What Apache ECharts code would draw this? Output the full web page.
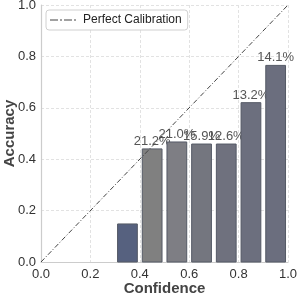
<!DOCTYPE html>
<html><head><meta charset="utf-8">
<script src="https://cdn.jsdelivr.net/npm/echarts@6/dist/echarts.min.js"></script>
<style>html,body{margin:0;padding:0;background:#fff}#c{width:297px;height:297px}</style>
</head><body><div id="c"></div>
<script>
const binLow = [0.3, 0.4, 0.5, 0.6, 0.7, 0.8, 0.9];
const binHigh = [0.4, 0.5, 0.6, 0.7, 0.8, 0.9, 1.0];
const accuracy = [0.148, 0.44, 0.467, 0.459, 0.459, 0.62, 0.765];
const labels = ['', '21.2%', '21.0%', '15.9%', '12.6%', '13.2%', '14.1%'];
const barColors = ['#56617f', '#808080', '#7e7e84', '#74767f', '#6f717e', '#6c6f7e', '#6b6e7e'];
const ticks = [0, 0.2, 0.4, 0.6, 0.8, 1.0];
const diagX = [0, 1];

const chart = echarts.init(document.getElementById('c'));
const data = binLow.map((lo, i) => [lo, binHigh[i], accuracy[i], i]);
chart.setOption({
  animation: false,
  grid: {left: 41, right: 9, top: 5, bottom: 35, outerBoundsMode: 'none', containLabel: false},
  xAxis: {type: 'value', min: 0, max: 1, interval: 0.2,
    axisLine: {show: true, lineStyle: {color: '#cccccc', width: 1.2}},
    axisTick: {show: false},
    axisLabel: {color: '#333', fontSize: 13, fontFamily: 'Liberation Sans', formatter: v => v.toFixed(1), margin: 6},
    splitLine: {show: true, lineStyle: {color: '#e2e2e2', type: [3, 2]}},
    name: 'Confidence', nameLocation: 'middle', nameGap: 19, nameMoveOverlap: false,
    nameTextStyle: {color: '#444', fontSize: 15, fontWeight: 'bold', fontFamily: 'Liberation Sans'}},
  yAxis: {type: 'value', min: 0, max: 1, interval: 0.2,
    axisLine: {show: true, lineStyle: {color: '#cccccc', width: 1.2}},
    axisTick: {show: false},
    axisLabel: {color: '#333', fontSize: 13, fontFamily: 'Liberation Sans', formatter: v => v.toFixed(1), margin: 5},
    splitLine: {show: true, lineStyle: {color: '#e2e2e2', type: [3, 2]}},
    name: 'Accuracy', nameLocation: 'middle', nameGap: 24, nameMoveOverlap: false,
    nameTextStyle: {color: '#444', fontSize: 15, fontWeight: 'bold', fontFamily: 'Liberation Sans'}},
  legend: {show: true, left: 46, top: 10, itemWidth: 26, itemHeight: 2, itemGap: 6,
    padding: [4, 6, 4, 4],
    borderColor: '#d0d0d0', borderWidth: 1, borderRadius: 3, backgroundColor: '#fff',
    textStyle: {color: '#222', fontSize: 12, fontFamily: 'Liberation Sans', padding: [0, 0, 0, 2]},
    data: [{name: 'Perfect Calibration',
      icon: 'path://M0,0h8v1h-8zM10,0h2v1h-2zM14,0h8v1h-8zM24,0h2v1h-2z',
      itemStyle: {color: '#444'}}]},
  series: [
    {type: 'custom', name: 'bars', data: data, z: 2,
      renderItem: function (params, api) {
        const lo = api.value(0), hi = api.value(1), acc = api.value(2), i = api.value(3);
        const w = (hi - lo);
        const p0 = api.coord([lo + w * 0.1, acc]);
        const p1 = api.coord([hi - w * 0.1, 0]);
        const children = [{type: 'rect', shape: {x: p0[0], y: p0[1], width: p1[0] - p0[0], height: p1[1] - p0[1]},
          style: {fill: barColors[i], stroke: '#555a66', lineWidth: 1}}];
        if (labels[i]) {
          children.push({type: 'text', style: {text: labels[i], x: (p0[0] + p1[0]) / 2, y: p0[1] - 1,
            align: 'center', verticalAlign: 'bottom', fill: '#555', fontSize: 13, fontFamily: 'Liberation Sans'}});
        }
        return {type: 'group', children: children};
      }},
    {type: 'line', name: 'Perfect Calibration', data: diagX.map(v => [v, v]), symbol: 'none', z: 5,
      lineStyle: {color: '#444', width: 1, type: [5, 2, 1, 2]}, itemStyle: {color: '#444'}}
  ]
});
</script></body></html>
